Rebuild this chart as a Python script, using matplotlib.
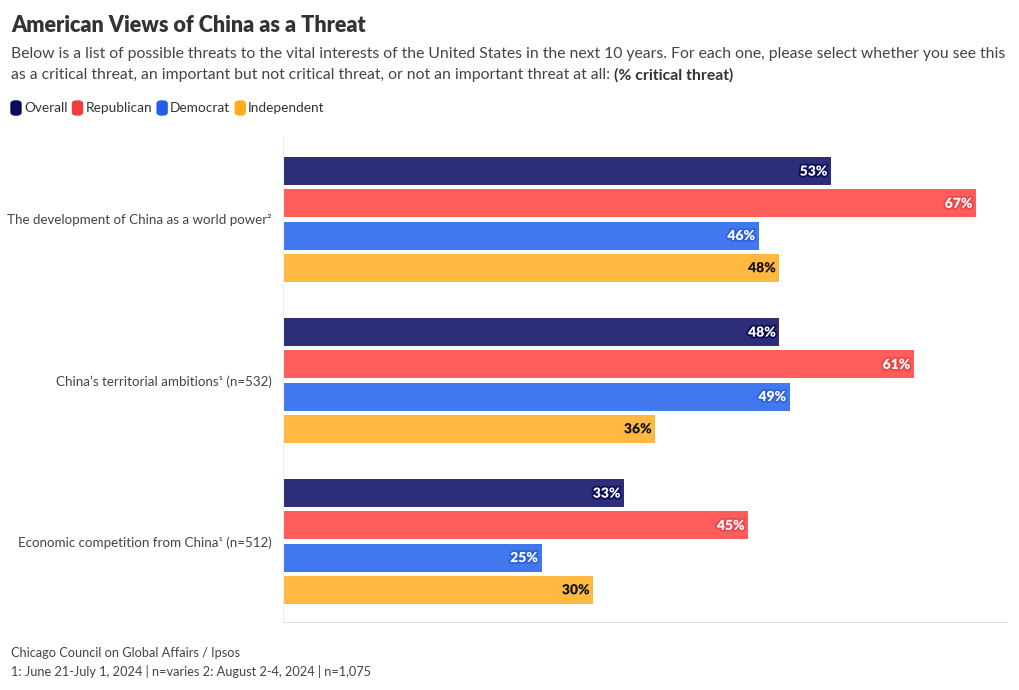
import matplotlib.pyplot as plt
import matplotlib.patheffects as pe
from matplotlib.patches import FancyBboxPatch
import numpy as np

plt.rcParams['font.family'] = ['Lato', 'DejaVu Sans']

categories = ["The development of China as a world power\u00b2",
              "China\u2019s territorial ambitions\u00b9 (n=532)",
              "Economic competition from China\u00b9 (n=512)"]
series = ["Overall", "Republican", "Democrat", "Independent"]
overall = [53, 48, 33]
republican = [67, 61, 45]
democrat = [46, 49, 25]
independent = [48, 36, 30]

bar_colors = ["#2E2E78", "#FF5C5C", "#4178EE", "#FFB940"]
legend_colors = ["#0B0B5C", "#F03C3C", "#1F5FE8", "#FFAE1A"]
label_colors = ["white", "white", "white", "#111111"]
halo_colors = ["#0B0B5C", "#E84848", "#2A62DE", "#FFB940"]

fig = plt.figure(figsize=(10.2, 6.9), dpi=100)
ax = fig.add_axes([283/1020, 1-622/690, (1007-283)/1020, (622-137)/690])

values = [overall, republican, democrat, independent]
y = np.arange(len(categories))
offsets = [-0.3, -0.1, 0.1, 0.3]
for i, vals in enumerate(values):
    bars = ax.barh(y + offsets[i], vals, height=0.174, color=bar_colors[i])
    for b, v in zip(bars, vals):
        ax.text(v - 0.35, b.get_y() + b.get_height()/2, f"{v}%", ha='right', va='center',
                fontsize=10, fontweight='heavy', color=label_colors[i],
                path_effects=[pe.withStroke(linewidth=2.5, foreground=halo_colors[i])])

ax.set_xlim(0, 70)
ax.set_ylim(2.5, -0.512)
ax.set_xticks([])
ax.set_yticks(y)
ax.set_yticklabels(categories, fontsize=9.6, color="#444444")
ax.tick_params(axis='y', length=0, pad=8)
for s in ['top', 'right']:
    ax.spines[s].set_visible(False)
ax.spines['left'].set_color("#eeeeee")
ax.spines['bottom'].set_color("#e3e3e3")

fig.text(11/1020, 1-25/690, "American Views of China as a Threat", fontsize=15.5,
         fontweight='heavy', color="#333333", va='center')
fig.text(11/1020, 1-54/690,
         "Below is a list of possible threats to the vital interests of the United States in the next 10 years. For each one, please select whether you see this",
         fontsize=11.35, color="#444444", va='center')
t = fig.text(11/1020, 1-75/690,
             "as a critical threat, an important but not critical threat, or not an important threat at all: ",
             fontsize=11.35, color="#444444", va='center')
fig.canvas.draw()
bb = t.get_window_extent()
fig.text(bb.x1/1020, 1-75/690, "(% critical threat)", fontsize=11.35, fontweight='bold',
         color="#333333", va='center')

# legend
x = 11
for name, c in zip(series, legend_colors):
    fig.patches.append(FancyBboxPatch((x/1020, 1-115/690), 10/1020, 14/690,
                                      boxstyle="round,pad=0,rounding_size=0.004",
                                      transform=fig.transFigure, color=c))
    lt = fig.text((x + 13)/1020, 1-108/690, name, fontsize=9.8, color="#333333", va='center')
    fig.canvas.draw()
    x = lt.get_window_extent().x1 + 5

fig.text(11/1020, 1-653/690, "Chicago Council on Global Affairs / Ipsos", fontsize=9.2,
         color="#444444", va='center')
fig.text(11/1020, 1-671/690, "1: June 21-July 1, 2024 | n=varies 2: August 2-4, 2024 | n=1,075",
         fontsize=9.2, color="#444444", va='center')

fig.savefig("out.png", dpi=100)
